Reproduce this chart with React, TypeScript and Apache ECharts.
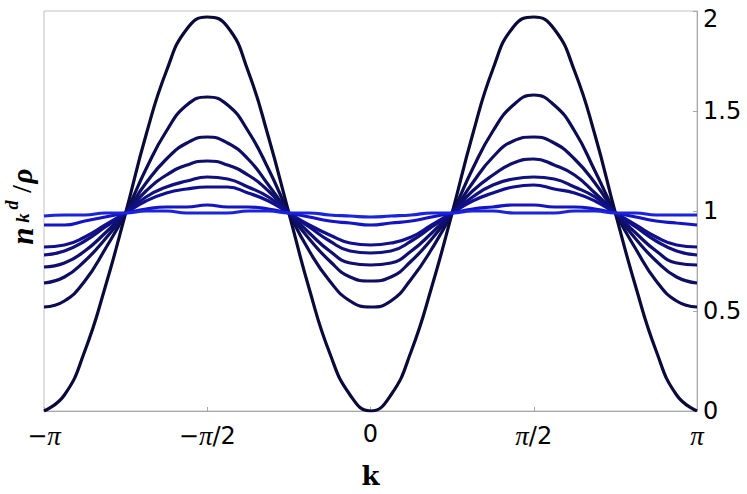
import { useEffect, useRef } from "react";
import * as echarts from "echarts";

// k grid in units of pi/16, from -pi to pi
const kSixteenths = [
  -16, -15, -14, -13, -12, -11, -10, -9, -8, -7, -6, -5, -4, -3, -2, -1, 0,
  1, 2, 3, 4, 5, 6, 7, 8, 9, 10, 11, 12, 13, 14, 15, 16,
];

const xTickLabels = [
  "{s|−}{p|π}",
  "{s|−}{p|π}{s|/2}",
  "{s|0}",
  "{p|π}{s|/2}",
  "{p|π}",
];
const yTickValues = [0, 0.5, 1, 1.5, 2];

const curve1 = [
  0.0, 0.08, 0.3, 0.62, 0.99, 1.38, 1.7, 1.91, 1.97,
  1.92, 1.7, 1.37, 0.99, 0.61, 0.29, 0.08, 0.0,
  0.08, 0.3, 0.62, 0.99, 1.38, 1.71, 1.92, 1.97,
  1.91, 1.7, 1.38, 0.99, 0.62, 0.3, 0.08, 0.0,
];
const curve2 = [
  0.52, 0.55, 0.65, 0.81, 0.99, 1.21, 1.4, 1.53, 1.57,
  1.53, 1.4, 1.21, 0.99, 0.8, 0.65, 0.55, 0.52,
  0.55, 0.66, 0.81, 0.99, 1.21, 1.4, 1.53, 1.58,
  1.53, 1.4, 1.2, 0.99, 0.81, 0.65, 0.55, 0.52,
];
const curve3 = [
  0.64, 0.67, 0.75, 0.86, 0.99, 1.14, 1.26, 1.34, 1.37,
  1.34, 1.26, 1.13, 0.99, 0.86, 0.75, 0.67, 0.65,
  0.67, 0.75, 0.86, 0.99, 1.14, 1.27, 1.35, 1.37,
  1.34, 1.26, 1.14, 0.99, 0.86, 0.75, 0.67, 0.64,
];
const curve4 = [
  0.72, 0.74, 0.8, 0.89, 0.99, 1.1, 1.18, 1.23, 1.25,
  1.23, 1.18, 1.1, 0.99, 0.89, 0.8, 0.74, 0.73,
  0.74, 0.8, 0.89, 0.99, 1.1, 1.18, 1.24, 1.26,
  1.23, 1.18, 1.09, 0.99, 0.89, 0.8, 0.74, 0.73,
];
const curve5 = [
  0.78, 0.8, 0.85, 0.92, 0.99, 1.07, 1.12, 1.15, 1.17,
  1.16, 1.12, 1.07, 0.99, 0.92, 0.85, 0.8, 0.79,
  0.8, 0.85, 0.92, 0.99, 1.07, 1.13, 1.16, 1.17,
  1.16, 1.12, 1.07, 0.99, 0.92, 0.85, 0.8, 0.78,
];
const curve6 = [
  0.82, 0.83, 0.87, 0.93, 0.99, 1.05, 1.09, 1.11, 1.12,
  1.12, 1.09, 1.05, 0.99, 0.93, 0.88, 0.84, 0.83,
  0.84, 0.87, 0.93, 0.99, 1.05, 1.09, 1.12, 1.13,
  1.11, 1.09, 1.05, 0.99, 0.93, 0.87, 0.83, 0.82,
];
const curve7 = [
  0.93, 0.93, 0.95, 0.97, 0.99, 1.01, 1.02, 1.02, 1.03,
  1.02, 1.02, 1.01, 0.99, 0.97, 0.95, 0.94, 0.93,
  0.94, 0.95, 0.97, 0.99, 1.01, 1.02, 1.03, 1.03,
  1.02, 1.02, 1.01, 0.99, 0.97, 0.95, 0.94, 0.93,
];
const curve8 = [
  0.975, 0.98, 0.98, 0.99, 0.99, 1.0, 1.0, 0.99, 0.99,
  0.99, 1.0, 1.0, 0.99, 0.99, 0.98, 0.975, 0.97,
  0.975, 0.98, 0.99, 0.99, 1.0, 1.0, 0.99, 0.99,
  0.99, 1.0, 1.0, 0.99, 0.99, 0.98, 0.98, 0.98,
];

const curves = [curve1, curve2, curve3, curve4, curve5, curve6, curve7, curve8];
const curveColors = [
  "#0a0a38",
  "#0c0c52",
  "#0e0e62",
  "#0f0f70",
  "#10107e",
  "#10108e",
  "#1414c4",
  "#1a24dc",
];

export default function App() {
  const ref = useRef<HTMLDivElement>(null);
  useEffect(() => {
    if (!ref.current) return;
    const chart = echarts.init(ref.current, null, { renderer: "svg" });
    const ks = kSixteenths.map((n) => (n * Math.PI) / 16);
    const axisGray = "#a8a8a8";
    const serifBI = {
      fontFamily: "Liberation Serif",
      fontWeight: "bold" as const,
      fontStyle: "italic" as const,
      fill: "#000",
    };
    chart.setOption({
      animation: false,
      backgroundColor: "#fff",
      grid: {
        left: 44,
        right: 50,
        top: 11,
        bottom: 79,
        show: true,
        borderColor: "#c0c0c0",
        borderWidth: 1,
      },
      xAxis: {
        type: "value",
        min: -Math.PI,
        max: Math.PI,
        interval: Math.PI / 2,
        name: "k",
        nameLocation: "middle",
        nameGap: 52,
        nameTextStyle: {
          fontFamily: "DejaVu Serif",
          fontWeight: "bold",
          fontSize: 26,
          color: "#000",
        },
        axisLine: { onZero: false, lineStyle: { color: axisGray, width: 1 } },
        axisTick: { inside: true, length: 4, lineStyle: { color: axisGray } },
        splitLine: { show: false },
        axisLabel: {
          margin: 11,
          showMinLabel: true,
          showMaxLabel: true,
          formatter: (v: number) => xTickLabels[Math.round(v / (Math.PI / 2)) + 2],
          rich: {
            s: { fontFamily: "DejaVu Sans", fontSize: 24, color: "#000" },
            p: {
              fontFamily: "Liberation Serif",
              fontStyle: "italic",
              fontSize: 27,
              color: "#000",
            },
          },
        },
      },
      yAxis: {
        type: "value",
        position: "right",
        min: 0,
        max: 2,
        interval: 0.5,
        axisLine: { show: true, onZero: false, lineStyle: { color: axisGray, width: 1 } },
        axisTick: { show: true, inside: true, length: 4, lineStyle: { color: axisGray } },
        splitLine: { show: false },
        axisLabel: {
          margin: 6,
          fontFamily: "DejaVu Sans",
          fontSize: 24,
          color: "#000",
          formatter: (v: number) =>
            v === 2 ? "{t|2}" : yTickValues.includes(v) ? String(v) : "",
          rich: {
            t: {
              fontFamily: "DejaVu Sans",
              fontSize: 24,
              color: "#000",
              padding: [15, 0, 0, 0],
            },
          },
        },
      },
      series: curves.map((c, i) => ({
        type: "line",
        data: c.map((v, j) => [ks[j], v]),
        smooth: true,
        showSymbol: false,
        lineStyle: { color: curveColors[i], width: 3.2 },
        z: 2 + i,
      })),
      graphic: [
        { type: "text", x: 22, y: 236, rotation: Math.PI / 2, style: { ...serifBI, text: "n", fontSize: 31, align: "center", verticalAlign: "middle" } },
        { type: "text", x: 22, y: 218, rotation: Math.PI / 2, style: { ...serifBI, text: "k", fontSize: 19, align: "center", verticalAlign: "middle" } },
        { type: "text", x: 12, y: 205, rotation: Math.PI / 2, style: { ...serifBI, text: "d", fontSize: 18, align: "center", verticalAlign: "middle" } },
        { type: "text", x: 22, y: 189, rotation: Math.PI / 2, style: { ...serifBI, fontStyle: "normal", text: "/", fontSize: 27, align: "center", verticalAlign: "middle" } },
        { type: "text", x: 22, y: 176, rotation: Math.PI / 2, style: { ...serifBI, text: "ρ", fontSize: 29, align: "center", verticalAlign: "middle" } },
      ],
    });
    return () => chart.dispose();
  }, []);
  return (
    <div
      ref={ref}
      style={{ position: "fixed", left: 0, top: 0, width: 747, height: 494 }}
    />
  );
}
